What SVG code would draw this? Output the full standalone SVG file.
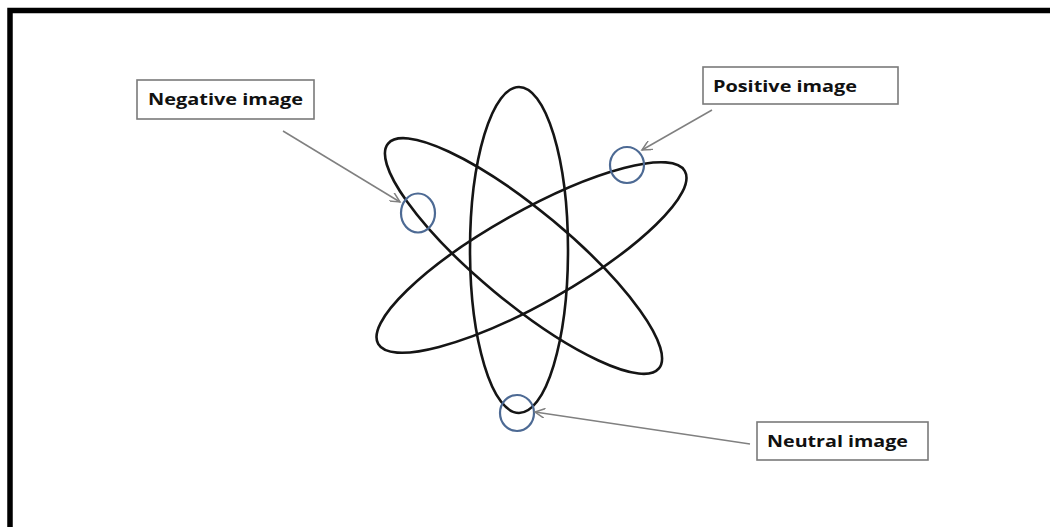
<svg xmlns="http://www.w3.org/2000/svg" width="1050" height="527" viewBox="0 0 1050 527">
<defs>
<style>
.orbit{fill:none;stroke:#151515;stroke-width:2.6}
.img{fill:none;stroke:#4d6a94;stroke-width:2.2}
.box{fill:#fff;stroke:#7a7a7a;stroke-width:1.6}
.lbl{font-family:"Open Sans","Liberation Sans",sans-serif;font-weight:bold;font-size:16px;fill:#111}
.conn{fill:none;stroke:#808080;stroke-width:1.5}
</style>
<marker id="ah" markerWidth="12" markerHeight="10" refX="10" refY="5" orient="auto" markerUnits="userSpaceOnUse">
<path d="M0,0 L10,5 L0,10" fill="none" stroke="#808080" stroke-width="1.5"/>
</marker>
</defs>
<rect width="1050" height="527" fill="#fff"/>
<path d="M10,527 V10.5 H1050" fill="none" stroke="#000" stroke-width="5.5"/>
<g id="atom">
<ellipse class="orbit" cx="519" cy="250" rx="49" ry="163"/>
<ellipse class="orbit" cx="523.5" cy="256" rx="176" ry="46" transform="rotate(39.7 523.5 256)"/>
<ellipse class="orbit" cx="531.5" cy="257.5" rx="176" ry="46" transform="rotate(-29.4 531.5 257.5)"/>
</g>
<g id="negative-marker"><ellipse class="img" cx="418" cy="213" rx="17" ry="19.5"/></g>
<g id="positive-marker"><ellipse class="img" cx="627" cy="165" rx="17" ry="18"/></g>
<g id="neutral-marker"><ellipse class="img" cx="517" cy="413" rx="17" ry="18"/></g>
<g id="negative-label">
<rect class="box" x="137" y="80" width="177" height="39"/>
<text class="lbl" x="148" y="105" textLength="155" lengthAdjust="spacingAndGlyphs">Negative image</text>
</g>
<g id="positive-label">
<rect class="box" x="703" y="67" width="195" height="37"/>
<text class="lbl" x="713" y="92" textLength="144" lengthAdjust="spacingAndGlyphs">Positive image</text>
</g>
<g id="neutral-label">
<rect class="box" x="757" y="422" width="171" height="38"/>
<text class="lbl" x="767" y="447" textLength="141" lengthAdjust="spacingAndGlyphs">Neutral image</text>
</g>
<g id="connectors">
<line class="conn" x1="283" y1="131" x2="400" y2="202" marker-end="url(#ah)"/>
<line class="conn" x1="712" y1="110" x2="642" y2="150" marker-end="url(#ah)"/>
<line class="conn" x1="750" y1="444" x2="535" y2="412" marker-end="url(#ah)"/>
</g>
</svg>
